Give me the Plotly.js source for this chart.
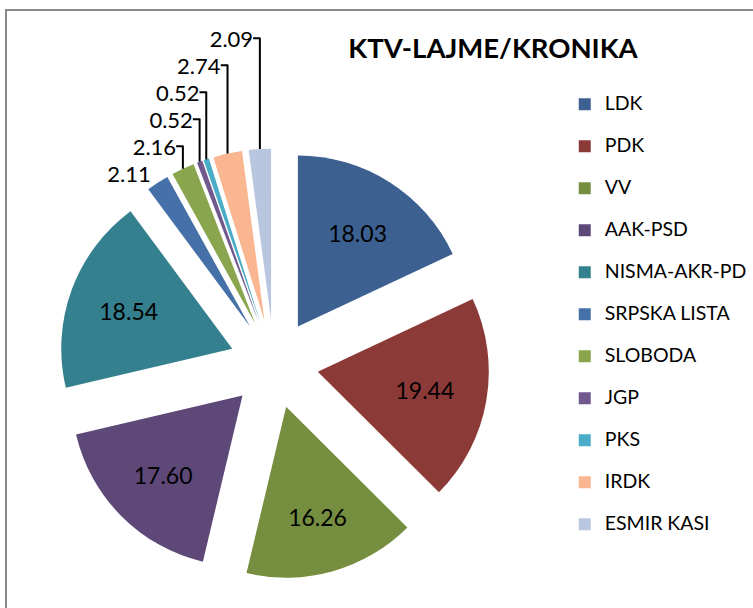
<!DOCTYPE html>
<html>
<head>
<meta charset="utf-8">
<script src="https://cdn.plot.ly/plotly-3.0.1.min.js"></script>
<style>html,body{margin:0;padding:0;background:#fff;}#chart{width:753px;height:608px;}</style>
</head>
<body>
<div id="chart"></div>
<script>
const categories = ["LDK", "PDK", "VV", "AAK-PSD", "NISMA-AKR-PD", "SRPSKA LISTA", "SLOBODA", "JGP", "PKS", "IRDK", "ESMIR KASI"];
const shares = [18.03, 19.44, 16.26, 17.60, 18.54, 2.11, 2.16, 0.52, 0.52, 2.74, 2.09];
const sliceColors = ["#3C6090", "#8C3A38", "#758E40", "#5D4878", "#35808F", "#4571A8", "#89A54E", "#71588F", "#4AACC6", "#F9B690", "#B9C6E0"];
const chartTitle = "KTV-LAJME/KRONIKA";

const legendLabels = categories.map(c => '<span style="font-size:19.5px">' + c + '</span><br> ');
const textPositions = shares.map(v => v > 10 ? 'inside' : 'outside');

const W = 753, H = 608;
const cx = 274, cy = 364, R = 171, pull = 0.26;
const half = R * (1 + pull);

const trace = {
  type: 'pie',
  labels: legendLabels,
  values: shares,
  sort: false,
  direction: 'clockwise',
  rotation: 0,
  pull: pull,
  marker: {colors: sliceColors, line: {width: 0}},
  textinfo: 'value',
  texttemplate: '%{value:.2f}',
  textposition: textPositions,
  insidetextorientation: 'horizontal',
  textfont: {family: 'Lato, sans-serif', size: 23, color: '#000'},
  insidetextfont: {family: 'Lato, sans-serif', size: 23, color: '#000'},
  outsidetextfont: {family: 'Lato, sans-serif', size: 22, color: '#000'},
  domain: {x: [(cx - half) / W, (cx + half) / W], y: [(H - cy - half) / H, (H - cy + half) / H]},
  hoverinfo: 'label+value'
};

const layout = {
  width: W, height: H,
  margin: {l: 0, r: 0, t: 0, b: 0},
  paper_bgcolor: '#fff',
  font: {family: 'Lato, sans-serif', color: '#000'},
  title: {
    text: '<b>' + chartTitle + '</b>',
    font: {family: 'Lato, sans-serif', size: 27.5, color: '#000'},
    x: 493 / W, xanchor: 'center',
    y: 1 - 48 / H, yanchor: 'middle', yref: 'container', xref: 'container'
  },
  showlegend: true,
  legend: {
    x: 0.75, xanchor: 'left',
    y: 1 - 88 / H, yanchor: 'top',
    font: {family: 'Lato, sans-serif', size: 15, color: '#000'},
    valign: 'top',
    bgcolor: 'rgba(0,0,0,0)',
    traceorder: 'normal'
  },
  shapes: [{
    type: 'rect', xref: 'paper', yref: 'paper',
    x0: 6 / W, x1: 1.1, y0: -0.1, y1: 1 - 10 / H,
    line: {color: '#8a8a8a', width: 2}, fillcolor: 'rgba(0,0,0,0)', layer: 'below'
  }]
};

Plotly.newPlot('chart', [trace], layout, {displayModeBar: false, staticPlot: true});
</script>
</body>
</html>
